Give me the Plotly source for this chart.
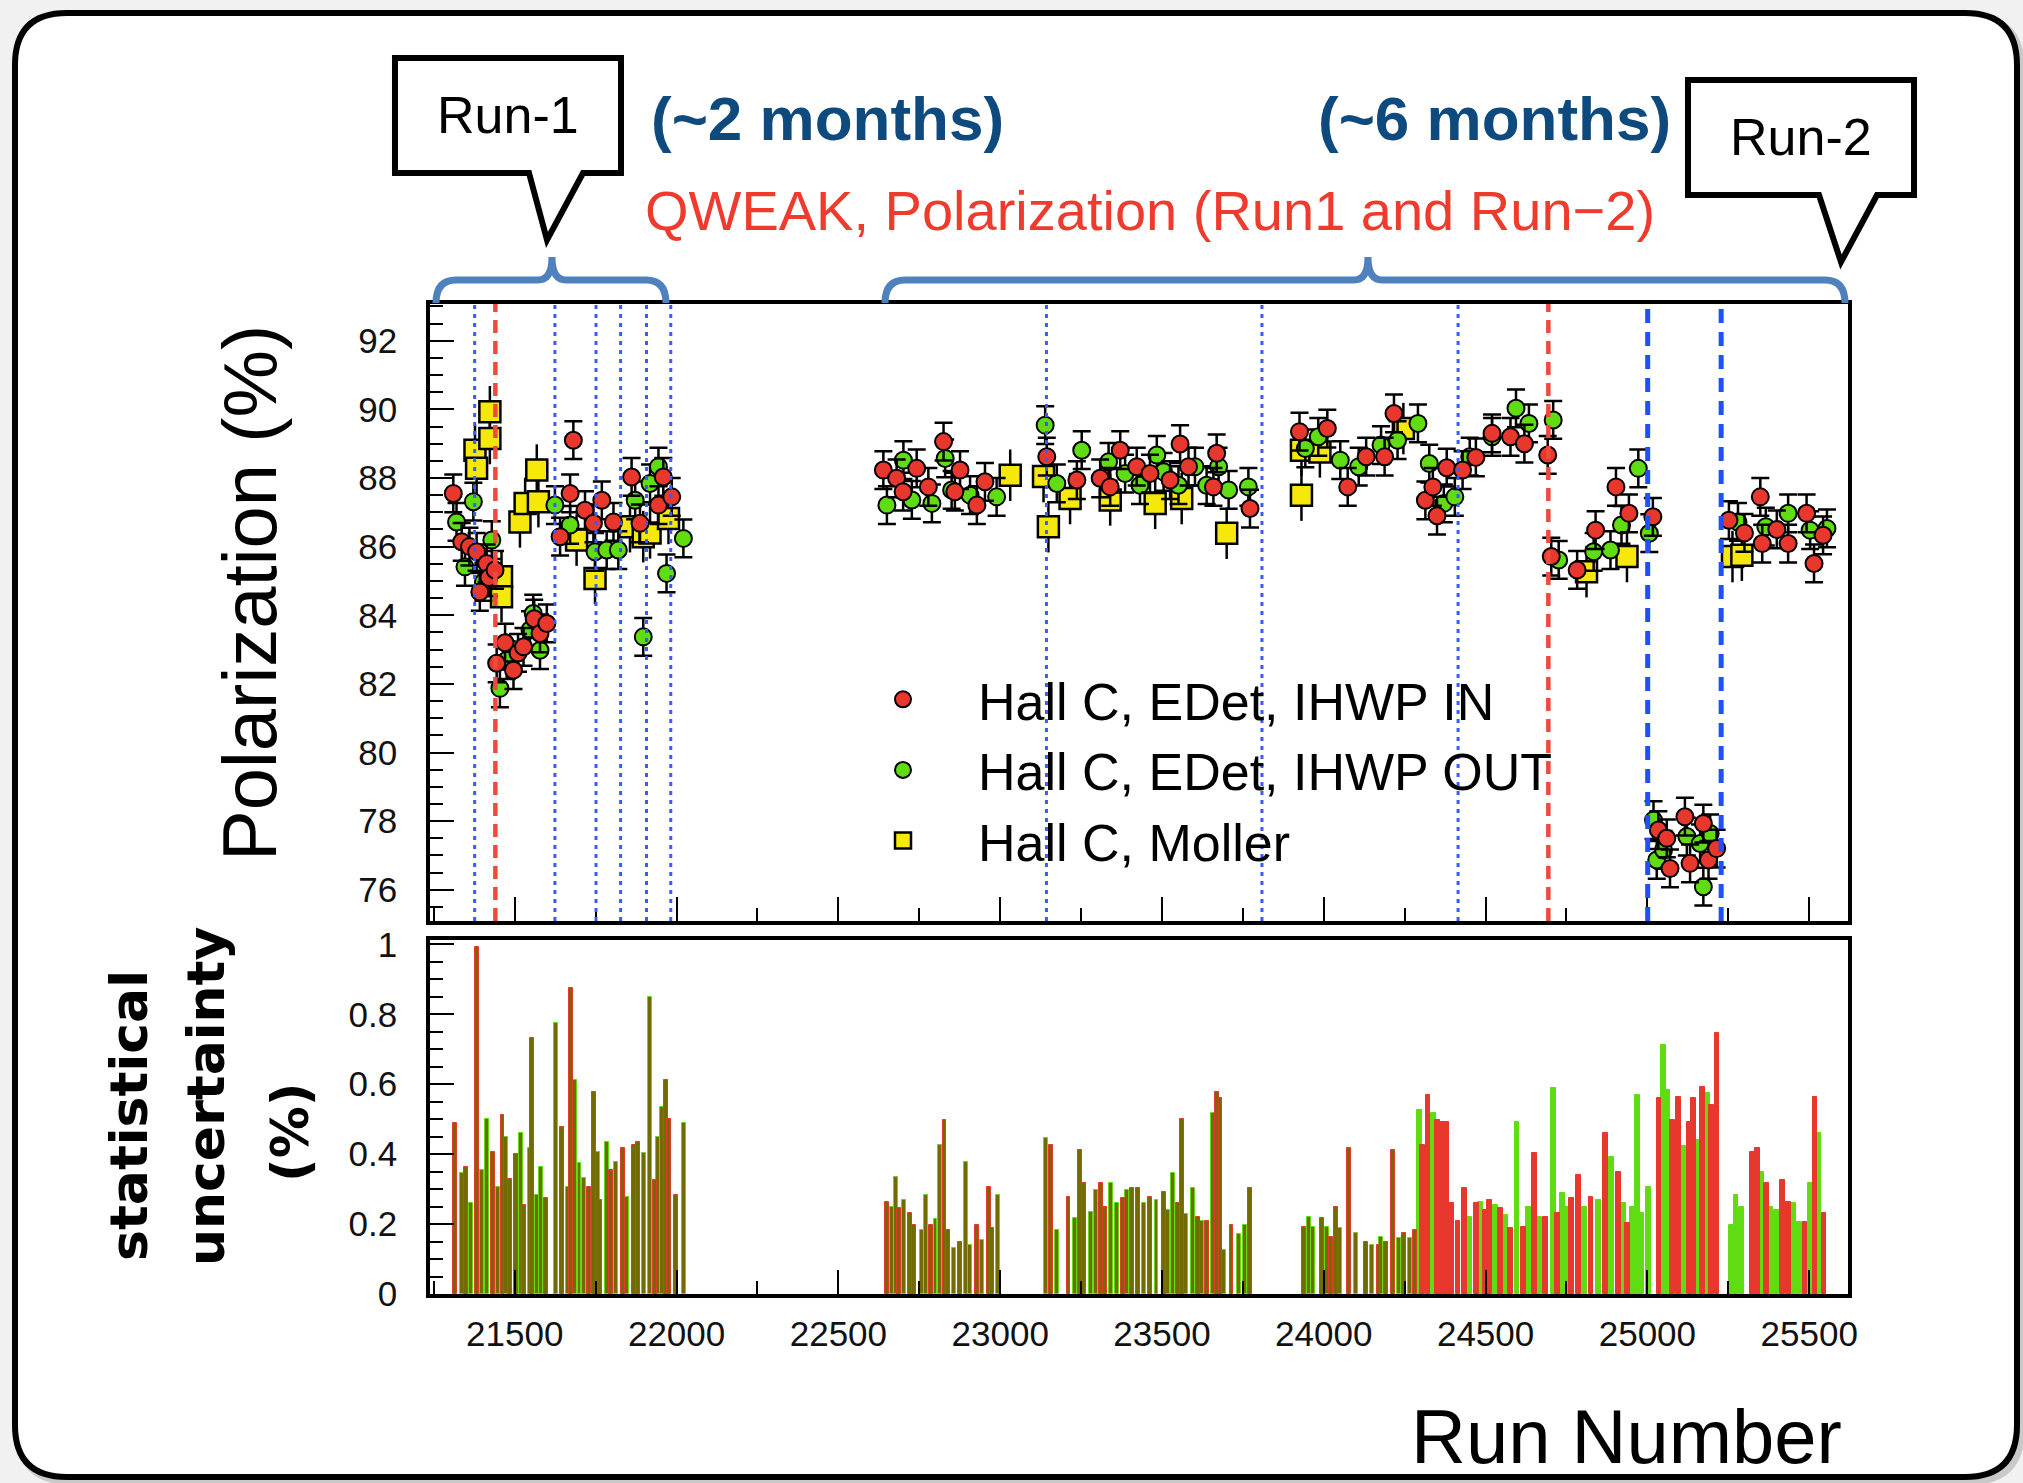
import plotly.graph_objects as go

W, H = 2023, 1483

# ---------------- Polarization vs run number ----------------
# Hall C, EDet, IHWP IN
in_run = [21310, 21336, 21360, 21382, 21392, 21413, 21420, 21439, 21444, 21470, 21496, 21510,
          21527, 21560, 21578, 21599, 21640, 21671, 21681, 21717, 21743, 21769, 21805, 21861,
          21887, 21944, 21959, 21985,
          22639, 22680, 22700, 22742, 22778, 22825, 22860, 22876, 22928, 22953, 23144, 23237,
          23309, 23340, 23371, 23422, 23463, 23525, 23556, 23582, 23659, 23669, 23772,
          23925, 24011, 24074, 24131, 24188, 24217, 24314, 24337, 24350, 24380, 24429, 24470,
          24520, 24577, 24620, 24692,
          24703, 24783, 24840, 24903, 24943, 25017,
          25034, 25060, 25070, 25116, 25132, 25173, 25189, 25214,
          25252, 25300, 25349, 25355, 25400, 25435, 25492, 25515, 25543]
in_pol = [87.55, 86.14, 86.0, 85.85, 84.68, 85.51, 85.1, 85.32, 82.6, 83.2, 82.4, 82.9,
          83.08, 83.9, 83.47, 83.76, 86.29, 87.55, 89.10, 87.06, 86.68, 87.35, 86.72, 88.03,
          86.68, 87.21, 88.03, 87.45,
          88.23, 87.99, 87.6, 88.28, 87.74, 89.06, 87.6, 88.23, 87.21, 87.89, 88.62, 87.94,
          87.99, 87.74, 88.81, 88.33, 88.13, 87.94, 88.99, 88.33, 87.74, 88.72, 87.11,
          89.35, 89.44, 87.74, 88.62, 88.62, 89.88, 87.35, 87.74, 86.9, 88.3, 88.23, 88.6,
          89.3, 89.2, 89.0, 88.67,
          85.71, 85.32, 86.48, 87.74, 86.97, 86.87,
          77.74, 77.5, 76.62, 78.13, 76.77, 77.93, 76.87, 77.2,
          86.77, 86.4, 87.45, 86.09, 86.5, 86.09, 86.97, 85.51, 86.33]

# Hall C, EDet, IHWP OUT
out_run = [21320, 21346, 21372, 21403, 21429, 21454, 21475, 21547, 21557, 21578, 21624, 21671,
           21748, 21784, 21820, 21872, 21897, 21918, 21944, 21969, 22021,
           22650, 22701, 22727, 22789, 22830, 22850, 22907, 22989, 23139, 23175, 23252, 23335,
           23386, 23432, 23484, 23505, 23551, 23602, 23638, 23675, 23706, 23767,
           23943, 23983, 24051, 24108, 24177, 24228, 24291, 24326, 24371, 24405, 24451, 24520,
           24594, 24634, 24709,
           24726, 24834, 24886, 24920, 24972, 25006,
           25019, 25029, 25050, 25122, 25163, 25173, 25194,
           25280, 25366, 25435, 25503, 25555]
out_pol = [86.72, 85.41, 87.31, 84.97, 86.19, 81.87, 82.69, 83.57, 84.05, 82.98, 87.21, 86.63,
           85.85, 85.9, 85.9, 87.35, 83.37, 87.84, 88.33, 85.22, 86.24,
           87.21, 88.52, 87.36, 87.26, 88.57, 87.65, 87.5, 87.45, 89.54, 87.84, 88.81, 88.47,
           88.13, 87.79, 88.67, 88.18, 87.79, 88.33, 87.79, 88.33, 87.65, 87.74,
           88.86, 89.2, 88.52, 88.33, 88.96, 89.1, 89.59, 88.42, 87.26, 87.45, 88.62, 89.2,
           90.03, 89.59, 89.69,
           85.61, 85.85, 85.9, 86.63, 88.28, 86.39,
           78.03, 76.87, 77.16, 77.55, 77.35, 76.09, 77.64,
           86.72, 86.58, 86.97, 86.48, 86.53]

# Hall C, Moller
moller_run = [21377, 21382, 21423, 21423, 21459, 21459, 21516, 21532, 21568, 21573, 21691, 21748,
              21856, 21897, 21918, 21975,
              23031, 23134, 23149, 23216, 23340, 23479, 23561, 23700,
              23931, 23931, 23988, 24246, 24812, 24937, 25263, 25292]
moller_pol = [88.81, 88.28, 89.93, 89.15, 85.12, 84.54, 86.72, 87.26, 88.23, 87.31, 86.19, 85.07,
              86.58, 86.29, 86.4, 86.82,
              88.08, 88.04, 86.58, 87.4, 87.36, 87.26, 87.4, 86.39,
              88.81, 87.5, 88.76, 89.44, 85.27, 85.71, 85.71, 85.75]

err_edet = 0.55
err_moller = 0.75

# Run-period boundaries (run numbers)
blue_dotted_runs = [21376, 21624, 21751, 21827, 21907, 21982, 23143, 23809, 24415]
red_dashed_runs = [21440, 24694]
blue_dashed_runs = [25001, 25228]

# ---------------- Statistical uncertainty (%) per run ----------------
unc_in_run = [21316, 21350, 21384, 21434, 21462, 21484, 21504, 21529, 21554, 21596, 21647, 21675,
              21728, 21745, 21764, 21798, 21834, 21868, 21882, 21932, 21966, 21977, 21999,
              22651, 22688, 22721, 22735, 22786, 22828, 22839, 22875, 22929, 22965, 22976,
              23158, 23211, 23248, 23259, 23312, 23323, 23379, 23407, 23427, 23463, 23505, 23550,
              23561, 23611, 23640, 23670, 23681, 23715, 23771,
              23939, 23995, 24023, 24037, 24079, 24130, 24169, 24191, 24213, 24247, 24281,
              24306, 24322, 24351, 24367, 24378, 24395, 24415, 24435, 24471, 24499, 24513, 24546,
              24577, 24616, 24650, 24686, 24723, 24765, 24787, 24826, 24871, 24910, 24938,
              25036, 25078, 25095, 25129, 25143, 25171, 25199, 25215,
              25325, 25341, 25367, 25417, 25437, 25487, 25518, 25546]
unc_in_val = [0.488, 0.364, 0.994, 0.407, 0.512, 0.33, 0.40, 0.255, 0.731, 0.274, 0.479, 0.874,
              0.307, 0.579, 0.269, 0.355, 0.417, 0.426, 0.436, 0.326, 0.612, 0.50, 0.283,
              0.264, 0.245, 0.231, 0.197, 0.197, 0.498, 0.183, 0.15, 0.197, 0.307, 0.19,
              0.426, 0.278, 0.412, 0.317, 0.317, 0.25, 0.274, 0.302, 0.302, 0.278, 0.293, 0.26,
              0.502, 0.221, 0.21, 0.579, 0.56, 0.197, 0.302,
              0.192, 0.216, 0.164, 0.25, 0.417, 0.15, 0.14, 0.15, 0.412, 0.174, 0.183,
              0.426, 0.569, 0.498, 0.493, 0.493, 0.259, 0.21, 0.302, 0.259, 0.24, 0.269, 0.245,
              0.188, 0.193, 0.403, 0.221, 0.231, 0.274, 0.34, 0.278, 0.46, 0.35, 0.202,
              0.56, 0.498, 0.564, 0.493, 0.56, 0.593, 0.54, 0.746,
              0.407, 0.417, 0.317, 0.326, 0.264, 0.207, 0.564, 0.231]

unc_out_run = [21336, 21364, 21400, 21414, 21448, 21473, 21518, 21546, 21568, 21582, 21627, 21663,
               21686, 21700, 21714, 21756, 21784, 21812, 21848, 21899, 21918, 21943, 21955, 22022,
               22665, 22677, 22702, 22758, 22772, 22800, 22814, 22856, 22895, 22906, 22943, 22993,
               23141, 23175, 23231, 23281, 23295, 23343, 23360, 23393, 23444, 23483, 23519, 23533,
               23575, 23595, 23625, 23659, 23693, 23737, 23757,
               23953, 23967, 24009, 24051, 24099, 24149, 24177, 24233, 24267,
               24295, 24339, 24451, 24485, 24530, 24563, 24597, 24633, 24667, 24709, 24737, 24751,
               24807, 24849, 24888, 24927, 24955, 24969, 24983, 25003,
               25050, 25061, 25112, 25157, 25185,
               25260, 25274, 25291, 25352, 25381, 25400, 25451, 25470, 25504, 25529]
unc_out_val = [0.345, 0.26, 0.355, 0.50, 0.307, 0.45, 0.46, 0.417, 0.283, 0.364, 0.774, 0.307,
               0.612, 0.374, 0.331, 0.407, 0.436, 0.378, 0.278, 0.402, 0.85, 0.45, 0.536, 0.488,
               0.25, 0.335, 0.269, 0.183, 0.283, 0.215, 0.426, 0.131, 0.378, 0.14, 0.154, 0.283,
               0.445, 0.183, 0.216, 0.236, 0.297, 0.317, 0.259, 0.297, 0.26, 0.27, 0.24, 0.345,
               0.23, 0.302, 0.21, 0.517, 0.126, 0.173, 0.197,
               0.221, 0.192, 0.192, 0.188, 0.174, 0.14, 0.164, 0.159, 0.159,
               0.526, 0.517, 0.221, 0.264, 0.254, 0.226, 0.493, 0.25, 0.221, 0.588, 0.288, 0.25,
               0.25, 0.269, 0.393, 0.259, 0.25, 0.569, 0.231, 0.307,
               0.712, 0.583, 0.422, 0.44, 0.574,
               0.197, 0.283, 0.25, 0.35, 0.25, 0.24, 0.259, 0.207, 0.317, 0.46]

# ---------------- styling ----------------
RED = "#e8372c"
GREEN = "#5fdc12"
YELLOW = "#f7e80c"
OLIVE = "#746b00"
NAVY = "#0e4a7e"
BRACE = "#4f81bd"
TICK_FONT = dict(family="Liberation Sans", size=35, color="#111111")


def px(x):
    return x / W


def py(y):
    return 1 - y / H


def pt(x, y):
    return f"{px(x):.5f},{py(y):.5f}"


fig = go.Figure()

# polarization markers
fig.add_trace(go.Scatter(
    x=moller_run, y=moller_pol, mode="markers", name="Hall C, Moller", legendrank=3,
    marker=dict(symbol="square", size=21, color=YELLOW, line=dict(color="black", width=2.5)),
    error_y=dict(type="constant", value=err_moller, color="black", thickness=2.5, width=0),
    xaxis="x", yaxis="y"))
fig.add_trace(go.Scatter(
    x=out_run, y=out_pol, mode="markers", name="Hall C, EDet, IHWP OUT", legendrank=2,
    marker=dict(symbol="circle", size=17, color=GREEN, line=dict(color="black", width=2)),
    error_y=dict(type="constant", value=err_edet, color="black", thickness=2.5, width=9),
    xaxis="x", yaxis="y"))
fig.add_trace(go.Scatter(
    x=in_run, y=in_pol, mode="markers", name="Hall C, EDet, IHWP IN", legendrank=1,
    marker=dict(symbol="circle", size=17, color=RED, line=dict(color="black", width=2)),
    error_y=dict(type="constant", value=err_edet, color="black", thickness=2.5, width=9),
    xaxis="x", yaxis="y"))

# uncertainty histogram: olive-filled narrow bins in the early runs, solid bins later
SOLID_FROM = 24290


def bar_style(runs, colour):
    fills = [OLIVE if r < SOLID_FROM else colour for r in runs]
    widths = [12 if r < SOLID_FROM else 15 for r in runs]
    return fills, widths


g_fill, g_w = bar_style(unc_out_run, GREEN)
r_fill, r_w = bar_style(unc_in_run, RED)
fig.add_trace(go.Bar(x=unc_out_run, y=unc_out_val, width=g_w, showlegend=False,
                     marker=dict(color=g_fill, line=dict(color=GREEN, width=1)),
                     xaxis="x2", yaxis="y2"))
fig.add_trace(go.Bar(x=unc_in_run, y=unc_in_val, width=r_w, showlegend=False,
                     marker=dict(color=r_fill, line=dict(color=RED, width=1)),
                     xaxis="x2", yaxis="y2"))

# ---------------- axes ----------------
x_dom = [px(430), px(1848)]
x_range = [21238, 25620]
common_x = dict(range=x_range, domain=x_dom, showgrid=False, zeroline=False,
                showline=True, linecolor="black", linewidth=3.5, mirror=True,
                ticks="inside", tick0=0, dtick=500, ticklen=24, tickwidth=2, tickcolor="black",
                tickformat="d",
                minor=dict(dtick=250, ticklen=13, tickwidth=2, ticks="inside", tickcolor="black"),
                automargin=False)
common_y = dict(showgrid=False, zeroline=False, showline=True, linecolor="black",
                linewidth=3.5, mirror=True, ticks="inside", ticklen=24, tickwidth=2,
                tickcolor="black", tickfont=TICK_FONT, ticklabelstandoff=22, automargin=False)

fig.update_layout(
    xaxis=dict(common_x, anchor="y", showticklabels=False),
    yaxis=dict(common_y, domain=[py(921), py(304)], range=[75.09, 93.07], dtick=2, tick0=0,
               minor=dict(dtick=0.5, ticklen=13, tickwidth=2, ticks="inside", tickcolor="black"),
               anchor="x"),
    xaxis2=dict(common_x, anchor="y2", showticklabels=True, tickfont=TICK_FONT,
                ticklabelstandoff=6),
    yaxis2=dict(common_y, domain=[py(1294), py(940)], range=[0, 1.0126], dtick=0.2, tick0=0,
                minor=dict(dtick=0.05, ticklen=13, tickwidth=2, ticks="inside", tickcolor="black"),
                anchor="x2"),
    barmode="overlay",
    bargap=0,
)

# ---------------- shapes ----------------
shapes = []


def rounded_rect(x0, y0, x1, y1, r):
    return ("M " + pt(x0 + r, y0) + " L " + pt(x1 - r, y0) + " Q " + pt(x1, y0) + " " + pt(x1, y0 + r) +
            " L " + pt(x1, y1 - r) + " Q " + pt(x1, y1) + " " + pt(x1 - r, y1) +
            " L " + pt(x0 + r, y1) + " Q " + pt(x0, y1) + " " + pt(x0, y1 - r) +
            " L " + pt(x0, y0 + r) + " Q " + pt(x0, y0) + " " + pt(x0 + r, y0) + " Z")


# soft shadow and framed panel
shapes.append(dict(type="path", xref="paper", yref="paper", layer="below",
                   path=rounded_rect(19, 17, 2021, 1481, 52),
                   line=dict(color="#c9c9c9", width=8), fillcolor="#c9c9c9"))
shapes.append(dict(type="path", xref="paper", yref="paper", layer="below",
                   path=rounded_rect(15, 13, 2017, 1477, 52),
                   line=dict(color="black", width=6), fillcolor="white"))


def callout(x0, y0, x1, y1, bl, br, tx, ty):
    return ("M " + pt(x0, y0) + " L " + pt(x1, y0) + " L " + pt(x1, y1) + " L " + pt(br, y1) +
            " L " + pt(tx, ty) + " L " + pt(bl, y1) + " L " + pt(x0, y1) + " Z")


shapes.append(dict(type="path", xref="paper", yref="paper",
                   path=callout(395, 58, 621, 173, 529, 583, 547, 240),
                   line=dict(color="black", width=6), fillcolor="white"))
shapes.append(dict(type="path", xref="paper", yref="paper",
                   path=callout(1688, 80, 1914, 195, 1819, 1877, 1841, 262),
                   line=dict(color="black", width=6), fillcolor="white"))


def brace(x0, x1, xm, y_end=303, y_flat=280, y_tip=257, c=20):
    return ("M " + pt(x0, y_end) + " Q " + pt(x0, y_flat) + " " + pt(x0 + c, y_flat) +
            " L " + pt(xm - 14, y_flat) + " Q " + pt(xm, y_flat) + " " + pt(xm, y_tip) +
            " Q " + pt(xm, y_flat) + " " + pt(xm + 14, y_flat) +
            " L " + pt(x1 - c, y_flat) + " Q " + pt(x1, y_flat) + " " + pt(x1, y_end))


shapes.append(dict(type="path", xref="paper", yref="paper", path=brace(436, 666, 552),
                   line=dict(color=BRACE, width=7)))
shapes.append(dict(type="path", xref="paper", yref="paper", path=brace(885, 1845, 1368),
                   line=dict(color=BRACE, width=7)))

for r in blue_dotted_runs:
    shapes.append(dict(type="line", xref="x", yref="y domain", x0=r, x1=r, y0=0, y1=1,
                       line=dict(color="#3a5cf5", width=3, dash="4px,5px")))
for r in red_dashed_runs:
    shapes.append(dict(type="line", xref="x", yref="y domain", x0=r, x1=r, y0=0, y1=1,
                       line=dict(color="#f04a3c", width=4.5, dash="13px,8px")))
for r in blue_dashed_runs:
    shapes.append(dict(type="line", xref="x", yref="y domain", x0=r, x1=r, y0=0, y1=1,
                       line=dict(color="#1f50ff", width=5, dash="14px,9px")))

fig.update_layout(shapes=shapes)

# ---------------- text ----------------
annotations = []


def label(text, x, y, size, color="black", family="Liberation Sans", angle=0, bold=False):
    t = f"<b>{text}</b>" if bold else text
    annotations.append(dict(text=t, x=px(x), y=py(y), xref="paper", yref="paper",
                            showarrow=False, xanchor="center", yanchor="middle",
                            textangle=angle, font=dict(family=family, size=size, color=color)))


label("Run-1", 508, 115, 52)
label("Run-2", 1801, 137, 52)
label("(~2 months)", 827, 118, 62, color=NAVY, bold=True)
label("(~6 months)", 1494, 118, 62, color=NAVY, bold=True)
label("QWEAK, Polarization (Run1 and Run\u22122)", 1150, 210, 56, color="#ee3b2e")
label("Polarization (%)", 249, 593, 76, angle=-90)
label("statistical", 129, 1116, 52, family="DejaVu Sans", angle=-90, bold=True)
label("uncertainty", 206, 1097, 52, family="DejaVu Sans", angle=-90, bold=True)
label("(%)", 290, 1132, 52, family="DejaVu Sans", angle=-90, bold=True)
label("Run Number", 1626, 1436, 76)

fig.update_layout(
    annotations=annotations,
    width=W, height=H, autosize=False,
    margin=dict(l=0, r=0, t=0, b=0, pad=0),
    paper_bgcolor="#f1f1f1", plot_bgcolor="white",
    showlegend=True,
    legend=dict(x=px(828), y=py(659), xanchor="left", yanchor="top",
                bgcolor="rgba(0,0,0,0)", borderwidth=0, itemwidth=140,
                font=dict(family="Liberation Sans", size=52, color="black"),
                traceorder="normal"),
)

fig.write_html("out.html")
